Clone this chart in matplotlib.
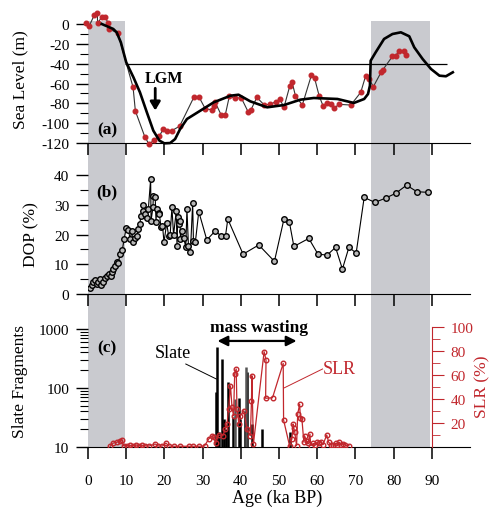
import numpy as np
import matplotlib
matplotlib.use("Agg")
import matplotlib.pyplot as plt
from matplotlib.ticker import FixedLocator, NullFormatter

plt.rcParams["font.family"] = ["Liberation Serif", "DejaVu Serif"]
plt.rcParams["axes.unicode_minus"] = False

RED = "#c1272d"
GRAY = "#c9cacf"

# glacial intervals (ka BP)
BANDS = [(0.0, 9.7), (74.0, 89.5)]

# (a) sea level records
sl_age = [-0.4, 0.35, 1.65, 2.45, 2.5, 3.6, 4.55, 5.3, 5.6, 7.8, 11.8, 12.4, 14.9, 16.0,
          17.2, 18.7, 19.7, 20.6, 21.95, 24.0, 27.7, 29.1, 30.7, 32.5, 32.9, 33.3, 34.9,
          35.95, 37.0, 38.6, 40.1, 41.9, 42.6, 44.2, 46.1, 47.7, 49.2, 50.2, 51.3, 52.8,
          53.4, 54.3, 56.1, 58.5, 59.3, 60.5, 61.5, 62.5, 63.5, 64.4, 65.7, 68.8, 71.4,
          72.7, 73.6, 74.7, 76.8, 77.2, 79.7, 80.6, 81.4, 82.6, 83.2]
sl_val = [1, -1.7, 9, 11, 1, 6.7, 6.7, 0.7, -5, -9.4, -63.8, -87.7, -114, -121.3,
          -117.2, -113, -105.7, -108.2, -107.5, -103, -73.9, -73.9, -85.5, -86.5, -82.3,
          -79, -92, -91.4, -72.9, -74.9, -74.3, -88.4, -87, -74, -81.5, -81, -78.3, -75.7,
          -84, -62.8, -58.2, -72.3, -81.7, -51.4, -54.4, -72.3, -82.3, -79.9, -81, -85,
          -81, -81.7, -68.9, -52.1, -55.4, -63.2, -48.1, -46.1, -32.6, -31.9, -26.9,
          -26.9, -31.2]

# (a) smoothed sea level curve
curve_age = [3.6, 6.6, 7.5, 8.6, 10.0, 11.9, 13.6, 15.4, 17.1, 18.7, 20.0, 21.5, 22.8,
             24.1, 25.9, 29.4, 32.9, 37.3, 39.4, 42.5, 46.9, 51.3, 55.6, 59.1, 65.3,
             69.6, 72.3, 73.3, 73.8, 74.0, 75.3, 77.5, 79.7, 81.9, 84.1, 85.4, 87.6,
             89.8, 92.0, 93.7, 95.5]
curve_val = [0, -5, -8.4, -18.5, -38.6, -53.8, -68.9, -89, -107.5, -117.6, -120.3, -120,
             -116, -106, -95.8, -87.4, -79, -72.3, -71.3, -78, -84, -81.7, -76.3, -74.6,
             -75.6, -79.6, -75.6, -70.6, -62.2, -37, -28.6, -15.1, -10.1, -8.4, -12.4,
             -23.5, -35.3, -45.4, -52.1, -52.7, -48.7]

# (b) degree of pyritization
dop_age = [0.5, 1.0, 1.4, 1.8, 2.3, 2.7, 3.1, 3.4, 4.0, 4.5, 4.9, 5.6, 6.0, 6.2, 6.6, 7.1,
           7.5, 7.95, 8.4, 9.0, 9.45, 10.0, 10.6, 11.0, 11.5, 11.7, 12.3, 12.8, 13.2,
           13.6, 13.8, 14.3, 14.5, 15.0, 15.4, 15.8, 16.4, 16.5, 17.0, 17.1, 17.6, 17.8,
           18.0, 18.5, 18.7, 19.1, 19.5, 19.9, 20.6, 21.1, 21.5, 21.97, 22.4, 23.1, 23.3,
           23.5, 23.8, 24.1, 24.2, 24.6, 25.0, 25.6, 25.9, 26.3, 26.8, 27.4, 27.6, 28.1,
           29.0, 31.1, 33.3, 34.8, 36.0, 36.6, 40.6, 44.7, 48.8, 51.3, 52.7, 53.9, 57.8,
           60.2, 62.6, 64.8, 66.6, 68.3, 70.2, 72.3, 75.1, 78.0, 80.6, 83.4, 86.1, 88.9]
dop_val = [2.2, 3.0, 3.9, 4.8, 3.4, 4.1, 5.0, 3.0, 3.9, 5.4, 5.9, 6.7, 6.2, 7.3, 8.4, 9.3,
           10.9, 10.6, 13.4, 14.9, 18.5, 22.1, 21.5, 18.5, 21.3, 17.6, 18.7, 19.6, 21.8,
           23.5, 26.1, 28.0, 30.0, 26.9, 25.4, 28.6, 38.7, 24.6, 29.1, 32.8, 32.5, 24.3,
           28.6, 27.2, 26.9, 22.4, 23.0, 17.4, 23.9, 19.6, 19.8, 29.1, 19.8, 28.0, 16.2,
           25.8, 23.5, 24.6, 18.5, 21.3, 19.0, 15.9, 28.6, 16.0, 14.0, 30.6, 17.9, 17.4,
           27.7, 18.2, 21.2, 19.6, 19.6, 25.2, 13.4, 16.5, 11.0, 25.2, 24.3, 16.0, 18.7,
           13.4, 13.1, 15.7, 8.4, 15.7, 13.8, 32.5, 30.8, 32.3, 33.9, 36.6, 34.4, 34.2]

# (c) slate fragment counts
slate_age = [33.5, 33.9, 34.3, 35.1, 35.6, 36.2, 36.7, 37.9, 39.5, 39.9, 41.0, 41.6,
             43.0, 45.6, 53.0]
slate_val = [85, 490, 18, 310, 30, 20, 125, 32, 69, 30, 40, 185, 25, 20, 17.7]
slate_gray_age = [38.6, 41.4]
slate_gray_val = [65, 224]

# (c) SLR (%)
slr_age = [5.8, 6.6, 7.5, 8.4, 8.8, 9.3, 10.2, 11.0, 11.8, 12.6, 13.4, 14.2, 15.0, 16.0,
           17.6, 18.4, 19.5, 20.4, 21.2, 22.5, 24.0, 26.5, 27.5, 29.0, 30.5, 31.6, 32.5,
           32.9, 33.4, 34.2, 35.3, 35.96, 36.4, 36.8, 37.3, 37.7, 38.1, 38.4, 38.8, 39.0,
           39.5, 39.9, 40.8, 41.6, 42.5, 42.8, 42.9, 43.3, 46.1, 46.6, 46.5, 48.3, 51.1,
           51.2, 52.8, 53.4, 53.7, 53.9, 54.1, 54.6, 54.9, 55.4, 55.6, 56.0, 56.5, 56.7,
           57.2, 57.6, 58.1, 58.3, 59.0, 59.5, 60.0, 60.5, 61.0, 61.5, 62.5, 63.0, 63.6,
           64.2, 64.8, 65.3, 65.8, 66.3, 66.8, 67.4, 68.3]
slr_val = [0.6, 3.3, 3.9, 5.3, 6.1, 1.1, 1.0, 1.5, 1.0, 1.8, 1.0, 1.5, 1.0, 0.8, 2.5, 0.8,
           0.8, 3.3, 0.8, 0.6, 0.6, 0.6, 0.6, 0.6, 0.8, 6.7, 9.4, 8.1, 3.0, 10, 9.4, 15,
           19.2, 31.7, 51, 33, 26, 61, 65, 31.7, 19.2, 26, 30.3, 15, 9.4, 38.6, 59.4, 2.5,
           79.4, 72.5, 40.6, 41, 69.7, 22.5, 0.5, 7, 19.2, 15.6, 12.8, 1.1, 27.5, 35.8, 24,
           23.3, 4, 9.4, 5, 3, 10.8, 1.1, 3, 2, 4, 3, 4.5, 2, 10, 4, 2, 1.5, 3, 2, 4, 2,
           2.5, 1.5, 1.1]

W, H = 492, 510
fig = plt.figure(figsize=(W / 100, H / 100), dpi=100)


def rect(top, bottom, left=88, right=470):
    return [left / W, 1 - bottom / H, (right - left) / W, (bottom - top) / H]


ax_a = fig.add_axes(rect(11, 160))
ax_b = fig.add_axes(rect(160, 312))
ax_c = fig.add_axes(rect(312, 448))

for ax in (ax_a, ax_b, ax_c):
    ax.set_xlim(0, 100)
    ax.patch.set_alpha(0)
    for s in ("top", "right", "left"):
        ax.spines[s].set_visible(False)
    ax.xaxis.set_major_locator(FixedLocator(range(0, 100, 10)))
    ax.tick_params(axis="both", which="major", direction="out", length=8.5, width=1,
                   labelsize=11, pad=5)
    ax.tick_params(axis="both", which="minor", direction="out", length=5.5, width=0.8)
    ax.tick_params(axis="x", which="major", length=8.5, width=1.1, pad=11)

# (a)
ax_a.set_ylim(-136.1, 14.1)
ax_a.spines["bottom"].set_position(("data", -120))
ax_a.set_yticks(range(-120, 1, 20))
ax_a.yaxis.set_minor_locator(FixedLocator(range(-110, 0, 20)))
ax_a.tick_params(axis="x", labelbottom=False)
for x0, x1 in BANDS:
    ax_a.axvspan(x0, x1, ymin=0, ymax=0.926, color=GRAY, lw=0, zorder=0)
ax_a.hlines(-40, 9.7, 94, color="black", lw=0.9, zorder=2)
ax_a.plot(sl_age, sl_val, color="#333333", lw=0.8, marker="o", ms=3.3, mfc=RED,
          mec=RED, zorder=3, clip_on=False)
ax_a.plot(curve_age, curve_val, color="black", lw=1.9, zorder=4)
ax_a.text(19.8, -54.4, "LGM", ha="center", va="center", fontsize=11.5,
          fontweight="bold")
ax_a.annotate("", xy=(17.6, -90), xytext=(17.6, -62),
              arrowprops=dict(arrowstyle="-|>,head_length=0.5,head_width=0.3",
                              color="black", lw=2))
ax_a.text(5, -106, "(a)", ha="center", va="center", fontsize=12.5, fontweight="bold")

# (b)
ax_b.set_ylim(-5.7, 45.4)
ax_b.spines["bottom"].set_position(("data", 0))
ax_b.set_yticks(range(0, 41, 10))
ax_b.yaxis.set_minor_locator(FixedLocator([5, 15, 25, 35]))
ax_b.tick_params(axis="x", labelbottom=False)
for x0, x1 in BANDS:
    ax_b.axvspan(x0, x1, color=GRAY, lw=0, zorder=0)
ax_b.plot(dop_age, dop_val, color="black", lw=0.8, marker="o", ms=4.0, mfc="#b8b8b8",
          mec="black", mew=1.0, zorder=3)
ax_b.text(5, 34.6, "(b)", ha="center", va="center", fontsize=12.5, fontweight="bold")

# (c)
ax_c.set_yscale("log")
ax_c.set_ylim(10, 2018)
ax_c.yaxis.set_major_locator(FixedLocator([10, 100, 1000]))
ax_c.yaxis.set_minor_locator(FixedLocator([v * m for m in (10, 100) for v in range(2, 10)]))
ax_c.yaxis.set_minor_formatter(NullFormatter())
ax_c.set_yticklabels(["10", "100", "1000"])
for x0, x1 in BANDS:
    ax_c.axvspan(x0, x1, color=GRAY, lw=0, zorder=0)
ax_c.vlines(slate_age, 10, slate_val, color="black", lw=1.8, zorder=3)
ax_c.vlines(slate_gray_age, 10, slate_gray_val, color="#555555", lw=1.8, zorder=3)
ax_c.text(5, 495, "(c)", ha="center", va="center", fontsize=12.5, fontweight="bold")
ax_c.text(22.3, 392, "Slate", ha="center", va="center", fontsize=13)
ax_c.plot([25.6, 33.6], [255, 142], color="black", lw=0.7)
ax_c.text(44.8, 1081, "mass wasting", ha="center", va="center", fontsize=12.5,
          fontweight="bold")
ax_c.annotate("", xy=(33.9, 627), xytext=(54.6, 627),
              arrowprops=dict(arrowstyle="<|-|>,head_length=0.6,head_width=0.3",
                              color="black", lw=1.6, shrinkA=0, shrinkB=0))

ax_s = ax_c.twinx()
ax_s.set_xlim(0, 100)
ax_s.set_ylim(0, 113.3)
for s in ("top", "left", "bottom"):
    ax_s.spines[s].set_visible(False)
ax_s.spines["right"].set_position(("data", 90))
ax_s.spines["right"].set_bounds(0, 100)
ax_s.spines["right"].set_color(RED)
ax_s.yaxis.set_major_locator(FixedLocator([20, 40, 60, 80, 100]))
ax_s.yaxis.set_minor_locator(FixedLocator([10, 30, 50, 70, 90]))
ax_s.tick_params(axis="y", which="major", colors=RED, length=8.5, labelsize=11, pad=5)
ax_s.tick_params(axis="y", which="minor", colors=RED, length=5.5)
ax_s.plot(slr_age, slr_val, color=RED, lw=0.9, marker="o", ms=3.3, mfc="none",
          mec=RED, mew=1.0, zorder=3)
ax_s.text(61.5, 65.8, "SLR", ha="left", va="center", fontsize=13, color=RED)
ax_s.plot([61.4, 51.2], [65, 49], color=RED, lw=0.7)

ax_c.set_xticklabels([str(v) for v in range(0, 100, 10)])

# axis titles
fig.text(20 / W, 1 - 80 / H, "Sea Level (m)", rotation=90, ha="center", va="center",
         fontsize=12.5)
fig.text(31 / W, 1 - 235 / H, "DOP (%)", rotation=90, ha="center", va="center",
         fontsize=12.5)
fig.text(20 / W, 1 - 382 / H, "Slate Fragments", rotation=90, ha="center",
         va="center", fontsize=12.5)
fig.text(482 / W, 1 - 387 / H, "SLR (%)", rotation=90, ha="center", va="center",
         fontsize=12.5, color=RED)
fig.text(277 / W, 1 - 498 / H, "Age (ka BP)", ha="center", va="center", fontsize=13)

fig.savefig("out.png", dpi=100)
